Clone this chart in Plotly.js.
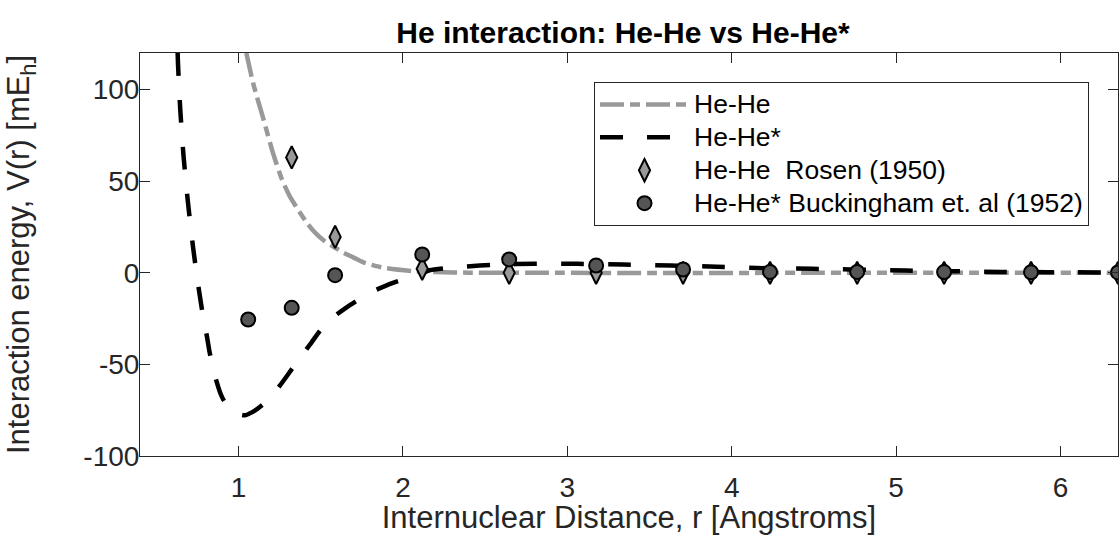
<!DOCTYPE html>
<html>
<head>
<meta charset="utf-8">
<script src="https://cdn.plot.ly/plotly-3.0.1.min.js"></script>
<style>html,body{margin:0;padding:0;background:#fff;}#chart{width:1119px;height:535px;}</style>
</head>
<body>
<div id="chart"></div>
<script>
// He-He theory curve (grey dash-dot)
const heHeR = [1.047, 1.091, 1.152, 1.209, 1.264, 1.31, 1.361, 1.41, 1.453, 1.52, 1.595, 1.634, 1.7, 1.756, 1.83, 1.9, 2.06, 2.2, 2.4, 2.8, 3.5, 4.5, 5.5, 6.35];
const heHeV = [120, 102.6, 83.6, 65.4, 50.9, 42, 34.5, 28, 23.1, 17.5, 13.3, 11.2, 8.3, 5.8, 3.8, 2.5, 0.9, 0.4, 0.1, 0.0, -0.05, -0.02, 0.0, 0.0];
// He-He* theory curve (black dashed)
const heHeStarR = [0.629, 0.631, 0.645, 0.665, 0.692, 0.722, 0.752, 0.787, 0.807, 0.824, 0.848, 0.868, 0.884, 0.9, 0.915, 0.95, 0.986, 1.036, 1.08, 1.148, 1.249, 1.33, 1.442, 1.533, 1.655, 1.797, 1.939, 2.1, 2.162, 2.364, 2.57, 2.8, 3.06, 3.34, 3.63, 3.91, 4.21, 4.49, 5.06, 5.64, 6.22, 6.35];
const heHeStarV = [120, 114.5, 89, 63.6, 38.2, 14.5, -5.5, -25.5, -34.6, -43.6, -53.5, -60, -64.5, -68, -70.5, -74.5, -76.8, -77.8, -76.2, -71.8, -61.8, -51.8, -38.2, -27.3, -19, -10.9, -5.5, -0.9, 1.4, 3.3, 4.5, 4.9, 4.9, 4.5, 4.0, 3.3, 2.5, 2.2, 1.25, 0.5, 0.2, 0.15];
// Rosen (1950) He-He points
const rosenR = [1.323, 1.587, 2.117, 2.646, 3.175, 3.704, 4.233, 4.763, 5.292, 5.821, 6.350];
const rosenV = [63, 19.6, 2.2, 0, 0, 0, 0, 0, 0, 0, 0];
// Buckingham et al. (1952) He-He* points
const buckR = [1.058, 1.323, 1.587, 2.117, 2.646, 3.175, 3.704, 4.233, 4.763, 5.292, 5.821, 6.350];
const buckV = [-25.5, -19.1, -1.3, 10.0, 7.3, 4.0, 1.8, 0.5, 0.5, 0.4, 0.3, 0.2];
// tick labels
const xTickVals = [1, 2, 3, 4, 5, 6];
const xTickText = ["1", "2", "3", "4", "5", "6"];
const yTickVals = [-100, -50, 0, 50, 100];
const yTickText = ["-100", "-50", "0", "50", "100"];
// legend names
const seriesNames = ["He-He", "He-He*", "He-He  Rosen (1950)", "He-He* Buckingham et. al (1952)"];

const FONT = "Liberation Sans, Arial, Helvetica, sans-serif";
const big = s => '<span style="font-size:26.5px">' + s + '</span>';
const traces = [
  {x: heHeR, y: heHeV, mode: "lines", name: big(seriesNames[0]), line: {color: "#999999", width: 4.5, dash: "24px,6px,10px,6px", shape: "spline", smoothing: 0.6}},
  {x: heHeStarR, y: heHeStarV, mode: "lines", name: big(seriesNames[1]), line: {color: "#000000", width: 4.5, dash: "23px,24px", shape: "spline", smoothing: 0.6}},
  {x: rosenR, y: rosenV, mode: "markers", name: big(seriesNames[2]), marker: {symbol: "diamond-tall", size: 16, color: "#999999", line: {color: "#000000", width: 2}}},
  {x: buckR, y: buckV, mode: "markers", name: big(seriesNames[3]), marker: {symbol: "circle", size: 14, color: "#555555", line: {color: "#000000", width: 2}}}
];
const axisCommon = {showgrid: false, zeroline: false, showline: true, linecolor: "#262626", linewidth: 1, mirror: "ticks", ticks: "inside", ticklen: 10, tickcolor: "#262626", tickfont: {family: FONT, size: 28, color: "#262626"}};
const layout = {
  width: 1119, height: 535,
  margin: {l: 140, r: 1, t: 53, b: 79},
  paper_bgcolor: "#ffffff", plot_bgcolor: "#ffffff",
  title: {text: "<b>He interaction: He-He vs He-He*</b>", x: 623 / 1119, xanchor: "center", y: 1 - 32 / 535, yanchor: "middle", font: {family: FONT, size: 30, color: "#000000"}},
  xaxis: Object.assign({}, axisCommon, {range: [0.4, 6.35], tickvals: xTickVals, ticktext: xTickText, ticklabelstandoff: 6, title: {text: "Internuclear Distance, r [Angstroms]", font: {family: FONT, size: 31, color: "#262626"}, standoff: 2}}),
  yaxis: Object.assign({}, axisCommon, {range: [-100, 120], tickvals: yTickVals, ticktext: yTickText, ticklabelstandoff: -6, title: {text: "Interaction energy, V(r) [mE<sub>h</sub>]", font: {family: FONT, size: 31, color: "#262626"}, standoff: 44}}),
  showlegend: true,
  legend: {x: (594 - 140) / 978, y: (456 - 82) / 403, xanchor: "left", yanchor: "top", bgcolor: "#ffffff", bordercolor: "#262626", borderwidth: 1, itemwidth: 89, font: {family: FONT, size: 23, color: "#000000"}, tracegroupgap: 0}
};
Plotly.newPlot("chart", traces, layout, {displayModeBar: false, staticPlot: true});
</script>
</body>
</html>
